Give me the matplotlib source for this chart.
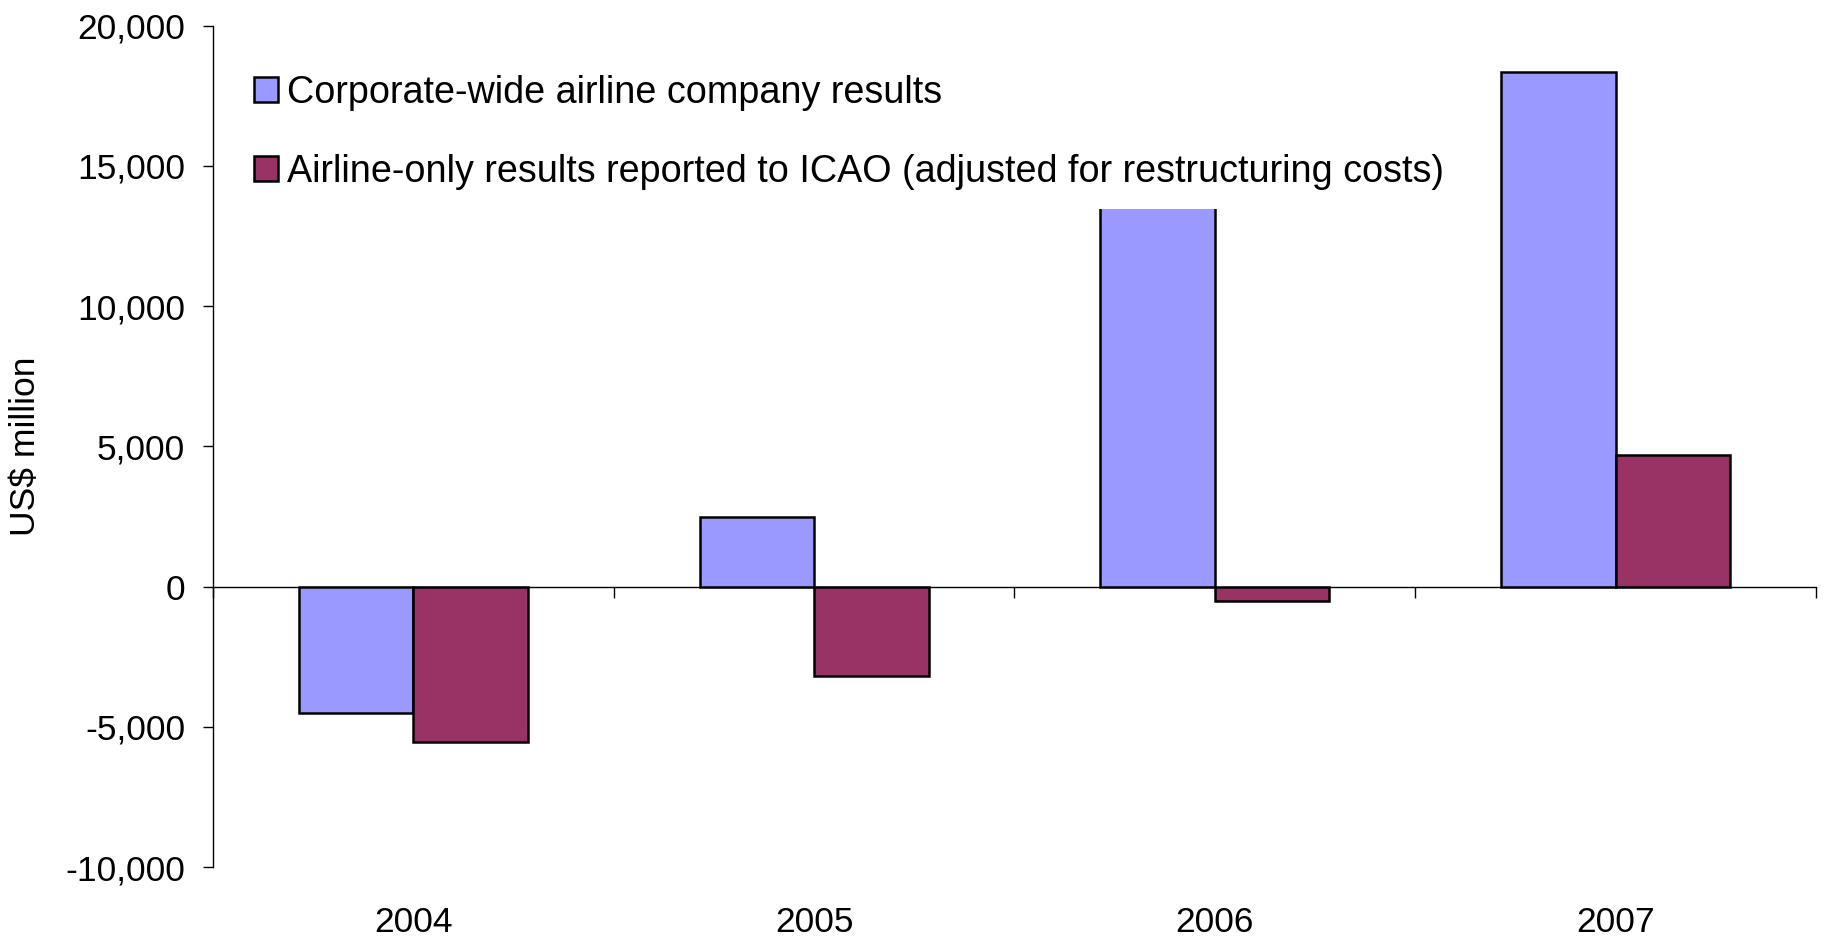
import numpy as np
import matplotlib
matplotlib.use("Agg")
from matplotlib import pyplot as plt
from matplotlib.ticker import FuncFormatter

plt.rcParams['font.family'] = ['Liberation Sans', 'DejaVu Sans']

years = ['2004', '2005', '2006', '2007']
corporate_wide = [-4520, 2480, 15900, 18330]
icao_airline_only = [-5560, -3200, -500, 4690]
series_names = ['Corporate-wide airline company results',
                'Airline-only results reported to ICAO (adjusted for restructuring costs)']
yticks = [-10000, -5000, 0, 5000, 10000, 15000, 20000]

fig = plt.figure(figsize=(18.25, 9.36), dpi=100)
ax = fig.add_axes([0.1167, 0.0737, 0.8783, 0.8989])

x = np.arange(len(years))
w = 1 / 3.5  # gap width 150%
ax.bar(x - w / 2, corporate_wide, w, color='#9999FF', edgecolor='black', linewidth=1.8,
       label=series_names[0], zorder=2)
ax.bar(x + w / 2, icao_airline_only, w, color='#993366', edgecolor='black', linewidth=1.8,
       label=series_names[1], zorder=2)

ax.set_xlim(-0.5, len(years) - 0.5)
ax.set_ylim(yticks[0], yticks[-1])
ax.set_yticks(yticks)
ax.yaxis.set_major_formatter(FuncFormatter(lambda v, p: f"{v:,.0f}"))
ax.tick_params(axis='y', labelsize=25.5, length=7, width=1, pad=13)

# x axis sits on zero, ticks between categories
ax.spines['top'].set_visible(False)
ax.spines['right'].set_visible(False)
ax.spines['bottom'].set_position(('data', 0))
ax.spines['bottom'].set_zorder(1)
ax.spines['left'].set_linewidth(1)
ax.spines['bottom'].set_linewidth(1)
ax.set_xticks(np.arange(len(years) + 1) - 0.5)
ax.set_xticklabels([])
ax.tick_params(axis='x', length=8, width=1, direction='out')
for xi, yr in zip(x, years):
    ax.text(xi, -0.046, yr, transform=ax.get_xaxis_transform(), ha='center', va='top',
            fontsize=25.5)

ax.set_ylabel(r'US\$ million', fontsize=25.5)
ax.yaxis.set_label_coords(-0.1067, 0.5)

leg = ax.legend(loc='upper left', bbox_to_anchor=(0.0139, 0.9635), borderaxespad=0,
                fontsize=27.2, frameon=True, fancybox=False, framealpha=1,
                facecolor='white', edgecolor='none', handlelength=0.64, handleheight=0.64,
                handletextpad=0.23, labelspacing=1.13, borderpad=0.5)
leg.set_zorder(5)
for h in leg.legend_handles:
    h.set_linewidth(1.8)

fig.savefig('out.png', dpi=100)
